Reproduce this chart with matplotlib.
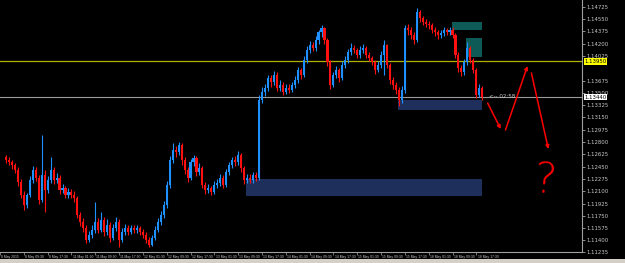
import numpy as np
import matplotlib.pyplot as plt
import matplotlib.transforms as mtransforms
from matplotlib.patches import Rectangle

# EURUSD candles, prices in pips above 1.1100
opens = [158, 154, 151, 147, 140, 123, 105, 90, 105, 126,
         140, 129, 97, 133, 112, 126, 140, 126, 129, 112,
         114, 105, 109, 105, 100, 76, 66, 58, 41, 48,
         55, 66, 55, 69, 52, 62, 43, 58, 66, 41,
         52, 58, 52, 58, 55, 58, 52, 48, 41, 33,
         43, 55, 66, 76, 90, 119, 154, 169, 166, 176,
         154, 140, 129, 151, 157, 137, 143, 119, 112, 114,
         109, 119, 122, 129, 119, 137, 147, 154, 151, 161,
         143, 126, 129, 126, 133, 129, 240, 251, 257, 271,
         265, 275, 257, 261, 251, 257, 254, 261, 268, 282,
         275, 297, 311, 318, 314, 325, 336, 342, 325, 294,
         261, 275, 282, 271, 290, 297, 308, 314, 311, 304,
         311, 314, 304, 300, 294, 282, 290, 304, 318, 290,
         268, 261, 254, 240, 254, 342, 339, 332, 325, 365,
         356, 351, 348, 346, 339, 336, 332, 335, 339, 336,
         339, 332, 304, 285, 280, 294, 314, 297, 282, 247,
         257]
closes = [154, 151, 147, 140, 123, 105, 90, 105, 126, 140,
          129, 97, 133, 112, 126, 140, 126, 129, 112, 114,
          105, 109, 105, 100, 76, 66, 58, 41, 48, 55,
          66, 55, 69, 52, 62, 43, 58, 66, 41, 52,
          58, 52, 58, 55, 58, 52, 48, 41, 33, 43,
          55, 66, 76, 90, 119, 154, 169, 166, 176, 154,
          140, 129, 151, 157, 137, 143, 119, 112, 114, 109,
          119, 122, 129, 119, 137, 147, 154, 151, 161, 143,
          126, 129, 126, 133, 129, 240, 251, 257, 271, 265,
          275, 257, 261, 251, 257, 254, 261, 268, 282, 275,
          297, 311, 318, 314, 325, 336, 342, 325, 294, 261,
          275, 282, 271, 290, 297, 308, 314, 311, 304, 311,
          314, 304, 300, 294, 282, 290, 304, 318, 290, 268,
          261, 254, 240, 254, 342, 339, 332, 325, 365, 356,
          351, 348, 346, 339, 336, 332, 335, 339, 336, 339,
          332, 304, 285, 280, 294, 314, 297, 282, 247, 257,
          244]
highs = [162, 158, 155, 150, 144, 127, 110, 108, 131, 146,
         144, 133, 190, 140, 132, 159, 145, 136, 133, 120,
         118, 115, 113, 110, 103, 80, 72, 62, 54, 62,
         95, 72, 80, 74, 70, 66, 64, 73, 70, 58,
         63, 62, 62, 62, 62, 61, 56, 52, 45, 48,
         60, 72, 82, 96, 124, 160, 179, 174, 180, 178,
         158, 144, 156, 162, 160, 150, 146, 123, 120, 118,
         124, 127, 135, 133, 142, 152, 158, 160, 167, 164,
         146, 135, 134, 138, 137, 247, 258, 262, 276, 276,
         281, 279, 268, 265, 262, 262, 266, 274, 287, 286,
         302, 316, 324, 322, 331, 340, 346, 344, 328, 297,
         280, 288, 285, 295, 302, 313, 321, 318, 314, 316,
         319, 317, 308, 303, 297, 295, 309, 325, 320, 293,
         272, 265, 258, 260, 346, 348, 343, 336, 371, 368,
         360, 355, 352, 350, 343, 340, 340, 343, 342, 343,
         343, 335, 308, 290, 298, 322, 317, 300, 285, 262,
         260]
lows = [150, 147, 142, 136, 118, 100, 83, 86, 102, 122,
        124, 92, 94, 80, 108, 121, 120, 122, 106, 108,
        100, 101, 100, 95, 72, 60, 52, 36, 38, 44,
        50, 50, 52, 46, 48, 38, 40, 54, 31, 38,
        48, 47, 49, 51, 51, 48, 44, 37, 31, 32,
        40, 52, 62, 72, 86, 115, 150, 158, 162, 148,
        134, 123, 126, 146, 132, 133, 114, 106, 108, 104,
        106, 115, 118, 114, 116, 133, 143, 146, 148, 138,
        120, 122, 121, 122, 124, 126, 235, 246, 252, 259,
        261, 252, 253, 247, 248, 250, 251, 257, 264, 270,
        272, 293, 306, 309, 310, 320, 330, 320, 288, 256,
        258, 271, 266, 268, 286, 293, 304, 306, 300, 300,
        307, 300, 295, 289, 277, 279, 286, 275, 285, 263,
        256, 249, 231, 236, 250, 333, 327, 320, 322, 351,
        346, 343, 341, 335, 331, 327, 328, 331, 332, 333,
        328, 299, 280, 274, 276, 290, 292, 278, 243, 244,
        240]

time_labels = ['8 May 2015', '8 May 09:30', '8 May 17:30', '11 May 01:30', '11 May 09:30',
               '11 May 17:30', '12 May 01:30', '12 May 09:30', '12 May 17:30', '13 May 01:30',
               '13 May 09:30', '13 May 17:30', '14 May 01:30', '14 May 09:30', '14 May 17:30',
               '15 May 01:30', '15 May 09:30', '15 May 17:30', '18 May 01:30', '18 May 09:30',
               '18 May 17:30']
time_bars = [-2, 6, 14, 22, 30, 38, 46, 54, 62, 70, 78, 86, 94, 102, 110,
             118, 126, 134, 142, 150, 158]

price_ticks = [1.14725, 1.14550, 1.14375, 1.14200, 1.14025, 1.13675, 1.13500,
               1.13325, 1.13150, 1.12975, 1.12800, 1.12625, 1.12450, 1.12275,
               1.12100, 1.11925, 1.11750, 1.11575, 1.11400, 1.11235]

# drawn zones: (bar from, bar to), (price low, price high)
zone_bars = [(149.8, 160.0), (154.5, 160.0), (131.8, 160.0), (80.8, 160.0)]
zone_prices = [(1.14394, 1.14508), (1.14010, 1.14280), (1.13256, 1.13398), (1.12032, 1.12274)]
zone_colors = ['#0e5a56', '#0e5a56', '#1f2f5c', '#1f2f5c']

yellow_level = 1.13950
last_price = 1.13440

# hand drawn red arrows (bar, price)
arrows = [((161.8, 1.13355), (166.2, 1.12985)),
          ((167.8, 1.12971), (175.2, 1.13882)),
          ((176.5, 1.13782), (182.2, 1.12700))]

o = 1.11 + np.array(opens) / 10000.0
c = 1.11 + np.array(closes) / 10000.0
h = 1.11 + np.array(highs) / 10000.0
l = 1.11 + np.array(lows) / 10000.0
x = np.arange(len(o))

fig = plt.figure(figsize=(6.25, 2.63), dpi=100, facecolor='black')
ax = fig.add_axes([0, 11 / 263, 582 / 625, 252 / 263], facecolor='black')
ax.set_xlim(-0.5, 193.5)
ax.set_ylim(1.11235, 1.14821)

for (b0, b1), (p0, p1), col in zip(zone_bars, zone_prices, zone_colors):
    ax.add_patch(Rectangle((b0, p0), b1 - b0, p1 - p0, facecolor=col, edgecolor='none', zorder=1))

ax.axhline(yellow_level, color='#b0b000', lw=0.9, zorder=2)
ax.axhline(last_price, color='#9a9a9a', lw=0.8, zorder=2)

up = c >= o
cols = np.where(up, '#1e90ff', '#ff1010')
ax.vlines(x, l, h, colors=cols, lw=0.8, zorder=3)
body = np.maximum(np.abs(c - o), 0.00004)
ax.bar(x, body, bottom=np.minimum(o, c), width=0.7, color=cols, linewidth=0, zorder=3)

for (x0, y0), (x1, y1) in arrows:
    ax.annotate('', xy=(x1, y1), xytext=(x0, y0),
                arrowprops=dict(arrowstyle='-|>', color='#ff0000', lw=1.1,
                                mutation_scale=5, shrinkA=0, shrinkB=0), zorder=5)
ax.text(181.3, 1.1225, '?', color='#ff0000', fontsize=31, ha='center', va='center',
        family='DejaVu Sans', fontweight='light', rotation=-5, zorder=5)
ax.text(162.2, last_price + 0.00014, '<-- 02:58', color='#c8c8c8', fontsize=4.0,
        ha='left', va='center', zorder=5)

# axes styling
for s in ['left', 'top']:
    ax.spines[s].set_visible(False)
ax.spines['right'].set_color('#a0a0a0')
ax.spines['bottom'].set_color('#a0a0a0')
ax.spines['right'].set_linewidth(0.8)
ax.spines['bottom'].set_linewidth(0.8)
ax.yaxis.tick_right()
ax.set_yticks(price_ticks)
ax.set_yticklabels(['%.5f' % p for p in price_ticks])
ax.tick_params(axis='y', colors='#c8c8c8', labelsize=3.9, length=2, width=0.5, pad=1.5)
ax.set_xticks(time_bars)
ax.set_xticklabels([])
ax.tick_params(axis='x', colors='#a0a0a0', length=2, width=0.5)

trans = mtransforms.blended_transform_factory(ax.transData, ax.transAxes)
for b, lab in zip(time_bars, time_labels):
    ax.text(b + 0.4, -0.01, lab, transform=trans, color='#c8c8c8', fontsize=2.4,
            family=['Liberation Sans', 'DejaVu Sans'],
            ha='left', va='top', clip_on=False)

rtrans = mtransforms.blended_transform_factory(ax.transAxes, ax.transData)
ax.text(1.004, yellow_level, '%.5f' % yellow_level, transform=rtrans, fontsize=3.9,
        color='black', ha='left', va='center',
        bbox=dict(boxstyle='square,pad=0.15', facecolor='#ffff00', edgecolor='none'))
ax.text(1.004, last_price, '%.5f' % last_price, transform=rtrans, fontsize=3.9,
        color='black', ha='left', va='center',
        bbox=dict(boxstyle='square,pad=0.15', facecolor='white', edgecolor='none'))

fig.patches.append(Rectangle((0, 0), 1, 4 / 263, transform=fig.transFigure,
                             facecolor='#d4d0c8', edgecolor='none'))

fig.savefig('out.png', dpi=100, facecolor='black')
